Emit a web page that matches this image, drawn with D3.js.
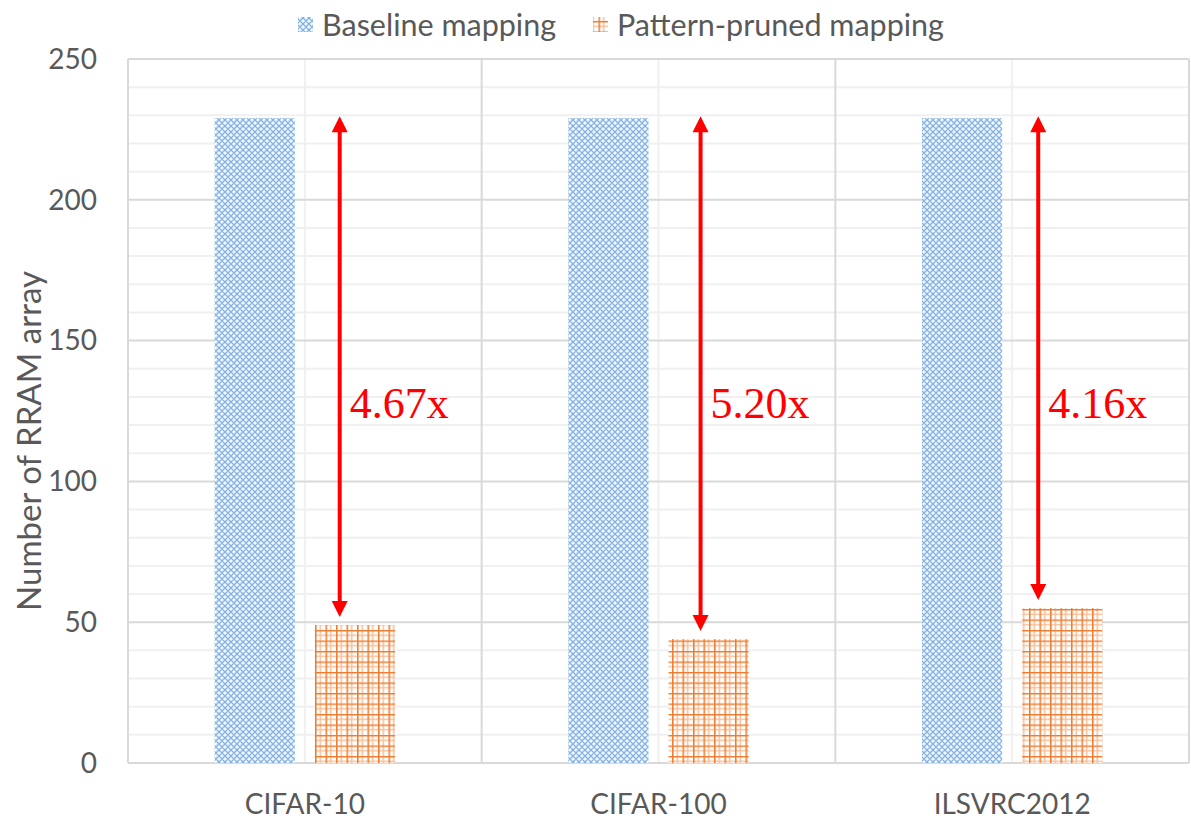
<!DOCTYPE html>
<html><head><meta charset="utf-8">
<script src="https://cdn.jsdelivr.net/npm/d3@7"></script>
<style>body{margin:0;background:#fff}</style>
</head><body>
<script>
const categories = ["CIFAR-10", "CIFAR-100", "ILSVRC2012"];
const seriesNames = ["Baseline mapping", "Pattern-pruned mapping"];
const baselineValues = [229, 229, 229];
const prunedValues = [49, 44, 55];
const ratioLabels = ["4.67x", "5.20x", "4.16x"];
const arrowOffsets = [0.31, 0.40, 0.20]; // arrow position inside the pruned bar (fraction of bar width)
const yTicks = [0, 50, 100, 150, 200, 250];

const W = 1191, H = 821;
const m = {left: 128, right: 2, top: 59, bottom: 58};
const svg = d3.select("body").append("svg").attr("width", W).attr("height", H);
const defs = svg.append("defs");

// blue dotted-diamond pattern
const pb = defs.append("pattern").attr("id","pBlue").attr("patternUnits","userSpaceOnUse")
  .attr("width",6).attr("height",6);
pb.append("rect").attr("width",6).attr("height",6).attr("fill","#ffffff");
pb.append("path").attr("d","M0,3 L3,0 L6,3 L3,6 Z").attr("fill","none").attr("stroke","#85b1e0").attr("stroke-width",1.4);
pb.append("circle").attr("cx",0).attr("cy",0).attr("r",1).attr("fill","#c5dbf1");
pb.append("circle").attr("cx",3).attr("cy",3).attr("r",0.8).attr("fill","#e3eef9");

// orange grid pattern
const po = defs.append("pattern").attr("id","pOrange").attr("patternUnits","userSpaceOnUse")
  .attr("width",10.5).attr("height",10.5);
po.append("rect").attr("width",10.5).attr("height",10.5).attr("fill","#ffffff");
po.append("path").attr("d","M5.25,0 V10.5 M0,5.25 H10.5").attr("stroke","#f6bf99").attr("stroke-width",1.5);
po.append("path").attr("d","M0.75,0 V10.5 M0,0.75 H10.5").attr("stroke","#ed7d31").attr("stroke-width",1.6);

const x0 = d3.scaleBand().domain(categories).range([m.left, W - m.right]).paddingInner(0.49).paddingOuter(0.245);
const x1 = d3.scaleBand().domain([0,1]).range([0, x0.bandwidth()]).paddingInner(0.2);
const y = d3.scaleLinear().domain([0, 250]).range([H - m.bottom, m.top]);

const catStep = x0.step();
const plotL = m.left, plotR = W - m.right;

// minor horizontal gridlines
const g = svg.append("g");
g.selectAll("line.minor").data(d3.range(10, 250, 10).filter(v => v % 50 !== 0)).join("line")
  .attr("x1", plotL).attr("x2", plotR).attr("y1", d => y(d)).attr("y2", d => y(d))
  .attr("stroke","#f0f0f0").attr("stroke-width",2);
// minor vertical gridlines (category centers)
g.selectAll("line.vmin").data(categories).join("line")
  .attr("x1", d => x0(d) + x0.bandwidth()/2).attr("x2", d => x0(d) + x0.bandwidth()/2)
  .attr("y1", y(250)).attr("y2", y(0)).attr("stroke","#f0f0f0").attr("stroke-width",2);
// major horizontal
g.selectAll("line.major").data(yTicks).join("line")
  .attr("x1", plotL).attr("x2", plotR).attr("y1", d => y(d)).attr("y2", d => y(d))
  .attr("stroke","#d9d9d9").attr("stroke-width",2);
// major vertical (category boundaries)
g.selectAll("line.vmaj").data(d3.range(categories.length + 1)).join("line")
  .attr("x1", i => plotL + i*catStep).attr("x2", i => plotL + i*catStep)
  .attr("y1", y(250)).attr("y2", y(0)).attr("stroke","#d9d9d9").attr("stroke-width",2);

// bars
const bars = svg.append("g");
bars.selectAll("rect.b").data(categories).join("rect")
  .attr("x", d => x0(d) + x1(0)).attr("width", x1.bandwidth())
  .attr("y", (d,i) => y(baselineValues[i])).attr("height", (d,i) => y(0) - y(baselineValues[i]))
  .attr("fill","url(#pBlue)");
bars.selectAll("rect.p").data(categories).join("rect")
  .attr("x", d => x0(d) + x1(1)).attr("width", x1.bandwidth())
  .attr("y", (d,i) => y(prunedValues[i])).attr("height", (d,i) => y(0) - y(prunedValues[i]))
  .attr("fill","url(#pOrange)");

// y axis labels
const font = "Lato, 'Open Sans', sans-serif";
svg.append("g").selectAll("text").data(yTicks).join("text")
  .attr("x", 97).attr("y", d => y(d)).attr("dy","0.35em").attr("text-anchor","end")
  .attr("font-family", font).attr("font-size", 28).attr("fill","#595959").text(d => d);

// x labels
svg.append("g").selectAll("text").data(categories).join("text")
  .attr("x", d => x0(d) + x0.bandwidth()/2).attr("y", 814).attr("text-anchor","middle")
  .attr("font-family", font).attr("font-size", 28).attr("fill","#595959").text(d => d);

// y title
svg.append("text").attr("transform","translate(41,441) rotate(-90)").attr("text-anchor","middle")
  .attr("font-family", font).attr("font-size", 33).attr("fill","#595959").text("Number of RRAM array");

// arrows
const arr = svg.append("g");
categories.forEach((c, i) => {
  const ax = x0(c) + x1(1) + arrowOffsets[i] * x1.bandwidth();
  const yt = y(baselineValues[i]) - 2;
  const yb = y(prunedValues[i]) - 8;
  const hh = 16, hw = 8;
  arr.append("line").attr("x1", ax).attr("x2", ax).attr("y1", yt + hh - 1).attr("y2", yb - hh + 1)
    .attr("stroke","#ff0000").attr("stroke-width",4);
  arr.append("path").attr("d", `M${ax},${yt} L${ax-hw},${yt+hh} L${ax+hw},${yt+hh} Z`).attr("fill","#ff0000");
  arr.append("path").attr("d", `M${ax},${yb} L${ax-hw},${yb-hh} L${ax+hw},${yb-hh} Z`).attr("fill","#ff0000");
  arr.append("text").attr("x", ax + 10).attr("y", 418)
    .attr("font-family","'Liberation Serif', 'Times New Roman', serif").attr("font-size", 44)
    .attr("fill","#ff0000").text(ratioLabels[i]);
});

// legend
const leg = svg.append("g");
const legX = [298, 593];
seriesNames.forEach((s, i) => {
  leg.append("rect").attr("x", legX[i]).attr("y", 17).attr("width", 15).attr("height", 15)
    .attr("fill", i === 0 ? "url(#pBlue)" : "url(#pOrange)");
  leg.append("text").attr("x", legX[i] + 24).attr("y", 25).attr("dy","0.35em")
    .attr("font-family", font).attr("font-size", 30.5).attr("fill","#595959").text(s);
});
</script>
</body></html>
